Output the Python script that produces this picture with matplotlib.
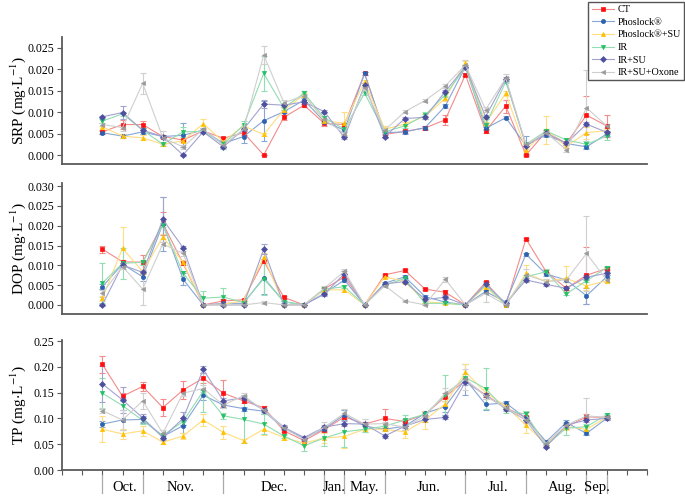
import matplotlib
matplotlib.use("Agg")
import matplotlib.pyplot as plt
from matplotlib.lines import Line2D
import numpy as np

plt.rcParams['font.family'] = ['Liberation Serif', 'DejaVu Serif']
plt.rcParams['mathtext.fontset'] = 'stix'

# sampling positions on the shared x axis (26 sampling dates)
sample_pos = list(range(2, 28))
x_max = 29

treatments = ['CT', 'Phoslock®', 'Phoslock®+SU', 'IR', 'IR+SU', 'IR+SU+Oxone']

# month separators and labels
month_bounds = [2, 4, 8, 13, 14, 16, 20, 23, 26, 27]
month_names = ['Oct.', 'Nov.', 'Dec.', 'Jan.', 'May.', 'Jun.', 'Jul.', 'Aug.', 'Sep.']
month_centers = [3.1, 5.9, 10.5, 13.5, 15.0, 18.2, 21.6, 24.8, 26.5]

# ---- SRP (mg/L) ----
srp_ct = [0.0054, 0.0071, 0.0071, 0.0043, 0.0035, 0.0056, 0.0039, 0.0052, 0.0, 0.0088, 0.0116, 0.0074, 0.0071,
          0.0190, 0.0048, 0.0055, 0.0063, 0.0082, 0.0187, 0.0056, 0.0114, 0.0, 0.0054, 0.0027, 0.0093, 0.0068]
srp_pho = [0.0052, 0.0044, 0.0054, 0.0043, 0.0046, 0.0058, 0.0027, 0.0043, 0.0080, 0.0101, 0.0128, 0.0078, 0.0058,
           0.0190, 0.0052, 0.0054, 0.0064, 0.0114, 0.0206, 0.0062, 0.0087, 0.0022, 0.0047, 0.0027, 0.0019, 0.0049]
srp_phosu = [0.0066, 0.0044, 0.0040, 0.0025, 0.0033, 0.0073, 0.0031, 0.0068, 0.0048, 0.0105, 0.0140, 0.0080, 0.0074,
             0.0171, 0.0060, 0.0072, 0.0090, 0.0132, 0.0215, 0.0074, 0.0144, 0.0012, 0.0058, 0.0020, 0.0052, 0.0057]
srp_ir = [0.0079, 0.0096, 0.0058, 0.0025, 0.0054, 0.0055, 0.0025, 0.0070, 0.0190, 0.0110, 0.0144, 0.0087, 0.0060,
          0.0144, 0.0054, 0.0068, 0.0093, 0.0140, 0.0204, 0.0070, 0.0171, 0.0025, 0.0056, 0.0035, 0.0025, 0.0044]
srp_irsu = [0.0089, 0.0099, 0.0058, 0.0043, 0.0, 0.0054, 0.0019, 0.0060, 0.0119, 0.0116, 0.0124, 0.0101, 0.0041,
            0.0163, 0.0043, 0.0085, 0.0088, 0.0148, 0.0206, 0.0089, 0.0177, 0.0022, 0.0051, 0.0027, 0.0072, 0.0053]
srp_oxo = [0.0071, 0.0064, 0.0167, 0.0040, 0.0019, 0.0060, 0.0023, 0.0060, 0.0233, 0.0122, 0.0138, 0.0083, 0.0050,
           0.0156, 0.0058, 0.0101, 0.0127, 0.0161, 0.0210, 0.0106, 0.0179, 0.0025, 0.0052, 0.0012, 0.0110, 0.0068]

srp_ct_err = [0.0004, 0.0010, 0.0008, 0.0003, 0.0003, 0.0004, 0.0003, 0.0005, 0.0, 0.0006, 0.0004, 0.0007, 0.0004,
              0.0003, 0.0005, 0.0003, 0.0005, 0.0012, 0.0004, 0.0005, 0.0015, 0.0003, 0.0004, 0.0004, 0.0045, 0.0025]
srp_pho_err = [0.0004, 0.0004, 0.0004, 0.0004, 0.0028, 0.0004, 0.0005, 0.0015, 0.0047, 0.0004, 0.0004, 0.0004, 0.0004,
               0.0003, 0.0004, 0.0004, 0.0004, 0.0004, 0.0004, 0.0004, 0.0004, 0.0022, 0.0004, 0.0004, 0.0004, 0.0004]
srp_phosu_err = [0.0009, 0.0004, 0.0006, 0.0003, 0.0003, 0.0012, 0.0004, 0.0005, 0.0004, 0.0004, 0.0005, 0.0004, 0.0027,
                 0.0004, 0.0008, 0.0004, 0.0005, 0.0006, 0.0005, 0.0004, 0.0006, 0.0003, 0.0033, 0.0004, 0.0014, 0.0004]
srp_ir_err = [0.0004, 0.0004, 0.0004, 0.0004, 0.0012, 0.0004, 0.0010, 0.0010, 0.0040, 0.0004, 0.0005, 0.0004, 0.0004,
              0.0004, 0.0004, 0.0004, 0.0008, 0.0004, 0.0004, 0.0004, 0.0004, 0.0004, 0.0004, 0.0004, 0.0008, 0.0008]
srp_irsu_err = [0.0003, 0.0016, 0.0004, 0.0003, 0.0003, 0.0003, 0.0003, 0.0004, 0.0009, 0.0004, 0.0004, 0.0003, 0.0003,
                0.0004, 0.0003, 0.0003, 0.0003, 0.0004, 0.0004, 0.0004, 0.0004, 0.0003, 0.0003, 0.0003, 0.0004, 0.0004]
srp_oxo_err = [0.0004, 0.0008, 0.0024, 0.0015, 0.0005, 0.0004, 0.0005, 0.0004, 0.0020, 0.0006, 0.0004, 0.0004, 0.0004,
               0.0004, 0.0004, 0.0004, 0.0004, 0.0005, 0.0012, 0.0005, 0.0009, 0.0004, 0.0004, 0.0004, 0.0088, 0.0004]

# ---- DOP (mg/L) ----
dop_ct = [0.0141, 0.0109, 0.0108, 0.0206, 0.0105, 0.0, 0.0010, 0.0013, 0.0111, 0.0019, 0.0, 0.0040, 0.0071,
          0.0, 0.0076, 0.0087, 0.0040, 0.0032, 0.0, 0.0057, 0.0, 0.0167, 0.0084, 0.0042, 0.0075, 0.0092]
dop_pho = [0.0046, 0.0103, 0.0071, 0.0205, 0.0065, 0.0, 0.0004, 0.0004, 0.0069, 0.0008, 0.0, 0.0029, 0.0063,
           0.0, 0.0055, 0.0071, 0.0021, 0.0007, 0.0, 0.0034, 0.0007, 0.0128, 0.0078, 0.0063, 0.0023, 0.0071]
dop_phosu = [0.0017, 0.0143, 0.0084, 0.0172, 0.0108, 0.0, 0.0002, 0.0010, 0.0122, 0.0, 0.0, 0.0038, 0.0038,
             0.0, 0.0071, 0.0059, 0.0008, 0.0004, 0.0, 0.0046, 0.0, 0.0080, 0.0059, 0.0067, 0.0048, 0.0061]
dop_ir = [0.0055, 0.0105, 0.0108, 0.0202, 0.0080, 0.0017, 0.0020, 0.0006, 0.0066, 0.0008, 0.0, 0.0040, 0.0046,
          0.0, 0.0050, 0.0067, 0.0004, 0.0004, 0.0, 0.0050, 0.0, 0.0071, 0.0084, 0.0028, 0.0061, 0.0094]
dop_irsu = [0.0, 0.0101, 0.0082, 0.0216, 0.0145, 0.0, 0.0, 0.0, 0.0141, 0.0, 0.0, 0.0027, 0.0079,
            0.0, 0.0053, 0.0059, 0.0014, 0.0019, 0.0, 0.0053, 0.0004, 0.0063, 0.0052, 0.0042, 0.0070, 0.0080]
dop_oxo = [0.0029, 0.0097, 0.0040, 0.0154, 0.0130, 0.0, 0.0, 0.0, 0.0006, 0.0, 0.0, 0.0042, 0.0085,
           0.0, 0.0049, 0.0010, 0.0, 0.0065, 0.0, 0.0029, 0.0, 0.0076, 0.0059, 0.0063, 0.0130, 0.0063]

dop_ct_err = [0.0009, 0.0004, 0.0019, 0.0030, 0.0005, 0.0, 0.0005, 0.0003, 0.0006, 0.0003, 0.0, 0.0004, 0.0006,
              0.0, 0.0003, 0.0003, 0.0003, 0.0006, 0.0, 0.0004, 0.0, 0.0003, 0.0004, 0.0004, 0.0072, 0.0004]
dop_pho_err = [0.0006, 0.0004, 0.0010, 0.0068, 0.0015, 0.0001, 0.0002, 0.0002, 0.0042, 0.0002, 0.0, 0.0004, 0.0004,
               0.0, 0.0004, 0.0004, 0.0003, 0.0003, 0.0, 0.0004, 0.0003, 0.0004, 0.0006, 0.0006, 0.0020, 0.0004]
dop_phosu_err = [0.0006, 0.0053, 0.0004, 0.0006, 0.0006, 0.0001, 0.0002, 0.0003, 0.0010, 0.0001, 0.0, 0.0007, 0.0006,
                 0.0, 0.0003, 0.0003, 0.0002, 0.0002, 0.0, 0.0004, 0.0, 0.0022, 0.0006, 0.0032, 0.0010, 0.0004]
dop_ir_err = [0.0050, 0.0040, 0.0006, 0.0006, 0.0006, 0.0017, 0.0022, 0.0003, 0.0040, 0.0003, 0.0, 0.0004, 0.0004,
              0.0, 0.0003, 0.0004, 0.0002, 0.0002, 0.0, 0.0004, 0.0, 0.0004, 0.0006, 0.0004, 0.0004, 0.0004]
dop_irsu_err = [0.0002, 0.0004, 0.0004, 0.0057, 0.0004, 0.0, 0.0, 0.0, 0.0012, 0.0, 0.0, 0.0004, 0.0006,
                0.0, 0.0003, 0.0004, 0.0002, 0.0003, 0.0, 0.0004, 0.0002, 0.0004, 0.0004, 0.0004, 0.0006, 0.0004]
dop_oxo_err = [0.0008, 0.0006, 0.0040, 0.0006, 0.0006, 0.0, 0.0, 0.0, 0.0004, 0.0, 0.0, 0.0006, 0.0005,
               0.0, 0.0004, 0.0003, 0.0, 0.0006, 0.0, 0.0022, 0.0, 0.0015, 0.0006, 0.0004, 0.0094, 0.0004]

# ---- TP (mg/L) ----
tp_ct = [0.205, 0.143, 0.162, 0.121, 0.155, 0.178, 0.149, 0.134, 0.121, 0.076, 0.057, 0.078, 0.103,
         0.089, 0.100, 0.094, 0.108, 0.142, 0.174, 0.145, 0.121, 0.102, 0.052, 0.084, 0.103, 0.102]
tp_pho = [0.089, 0.097, 0.098, 0.065, 0.086, 0.145, 0.126, 0.119, 0.114, 0.081, 0.061, 0.080, 0.107,
          0.085, 0.079, 0.085, 0.110, 0.123, 0.176, 0.127, 0.130, 0.100, 0.055, 0.092, 0.071, 0.100]
tp_phosu = [0.079, 0.070, 0.076, 0.054, 0.066, 0.097, 0.073, 0.057, 0.079, 0.063, 0.052, 0.062, 0.065,
            0.079, 0.079, 0.074, 0.097, 0.128, 0.190, 0.150, 0.124, 0.087, 0.050, 0.084, 0.079, 0.102]
tp_ir = [0.149, 0.125, 0.096, 0.067, 0.094, 0.153, 0.105, 0.098, 0.089, 0.066, 0.047, 0.062, 0.074,
         0.079, 0.085, 0.097, 0.108, 0.145, 0.179, 0.158, 0.116, 0.108, 0.048, 0.081, 0.084, 0.107]
tp_irsu = [0.167, 0.136, 0.101, 0.063, 0.100, 0.195, 0.134, 0.140, 0.116, 0.083, 0.063, 0.083, 0.090,
           0.089, 0.066, 0.085, 0.098, 0.102, 0.171, 0.145, 0.119, 0.097, 0.045, 0.087, 0.097, 0.100]
tp_oxo = [0.115, 0.097, 0.134, 0.071, 0.149, 0.158, 0.126, 0.144, 0.116, 0.081, 0.059, 0.083, 0.110,
          0.089, 0.090, 0.083, 0.105, 0.149, 0.176, 0.143, 0.121, 0.097, 0.052, 0.087, 0.105, 0.102]

tp_ct_err = [0.016, 0.006, 0.008, 0.016, 0.018, 0.010, 0.026, 0.004, 0.004, 0.003, 0.003, 0.004, 0.004,
             0.004, 0.018, 0.004, 0.004, 0.008, 0.005, 0.004, 0.003, 0.010, 0.003, 0.004, 0.005, 0.003]
tp_pho_err = [0.006, 0.020, 0.006, 0.004, 0.014, 0.010, 0.005, 0.004, 0.005, 0.004, 0.003, 0.004, 0.010,
              0.006, 0.004, 0.008, 0.004, 0.010, 0.030, 0.010, 0.003, 0.004, 0.003, 0.004, 0.004, 0.004]
tp_phosu_err = [0.025, 0.010, 0.010, 0.004, 0.005, 0.012, 0.013, 0.004, 0.012, 0.004, 0.003, 0.010, 0.022,
                0.006, 0.004, 0.012, 0.018, 0.006, 0.015, 0.008, 0.004, 0.015, 0.003, 0.006, 0.006, 0.004]
tp_ir_err = [0.030, 0.008, 0.006, 0.004, 0.006, 0.040, 0.006, 0.045, 0.020, 0.004, 0.010, 0.015, 0.030,
             0.006, 0.006, 0.010, 0.004, 0.040, 0.008, 0.040, 0.005, 0.006, 0.004, 0.013, 0.006, 0.004]
tp_irsu_err = [0.035, 0.025, 0.008, 0.004, 0.012, 0.007, 0.006, 0.005, 0.004, 0.004, 0.003, 0.004, 0.005,
               0.004, 0.004, 0.004, 0.004, 0.004, 0.006, 0.004, 0.004, 0.004, 0.003, 0.004, 0.004, 0.004]
tp_oxo_err = [0.005, 0.020, 0.015, 0.006, 0.006, 0.006, 0.006, 0.006, 0.005, 0.004, 0.003, 0.010, 0.008,
              0.010, 0.004, 0.006, 0.006, 0.010, 0.020, 0.005, 0.004, 0.004, 0.003, 0.004, 0.035, 0.004]

# styles per treatment: (marker, marker colour, line colour)
styles = [
    ('s', '#FF1010', '#F58A8A'),
    ('o', '#2D62B0', '#86A6D6'),
    ('^', '#FFC000', '#FFDD80'),
    ('v', '#22C066', '#92DDB2'),
    ('D', '#4F4FA0', '#A3A3D0'),
    ('<', '#9A9A9A', '#CFCFCF'),
]

panels = [
    ('SRP (mg$\\cdot$L$^{-1}$)', [srp_ct, srp_pho, srp_phosu, srp_ir, srp_irsu, srp_oxo],
     [srp_ct_err, srp_pho_err, srp_phosu_err, srp_ir_err, srp_irsu_err, srp_oxo_err],
     (-0.0021, 0.0275), [0.0, 0.005, 0.010, 0.015, 0.020, 0.025], '{:.3f}'),
    ('DOP (mg$\\cdot$L$^{-1}$)', [dop_ct, dop_pho, dop_phosu, dop_ir, dop_irsu, dop_oxo],
     [dop_ct_err, dop_pho_err, dop_phosu_err, dop_ir_err, dop_irsu_err, dop_oxo_err],
     (-0.0023, 0.0308), [0.0, 0.005, 0.010, 0.015, 0.020, 0.025, 0.030], '{:.3f}'),
    ('TP (mg$\\cdot$L$^{-1}$)', [tp_ct, tp_pho, tp_phosu, tp_ir, tp_irsu, tp_oxo],
     [tp_ct_err, tp_pho_err, tp_phosu_err, tp_ir_err, tp_irsu_err, tp_oxo_err],
     (0.0, 0.252), [0.0, 0.05, 0.10, 0.15, 0.20, 0.25], '{:.2f}'),
]

# axes rectangles in figure fractions (left, bottom, width, height)
rects = [
    (0.0905, 0.6713, 0.854, 0.2545),
    (0.0905, 0.3707, 0.854, 0.2625),
    (0.0905, 0.0581, 0.854, 0.2605),
]

fig = plt.figure(figsize=(6.85, 4.99), dpi=100)
spine_color = '#5a5a5a'
legend_lines = []

for p, (ylabel, series, errs, ylim, yticks, fmt) in enumerate(panels):
    ax = fig.add_axes(rects[p])
    for k, (vals, err) in enumerate(zip(series, errs)):
        marker, mcol, lcol = styles[k]
        ax.errorbar(sample_pos, vals, yerr=err, fmt='none', ecolor=lcol,
                    elinewidth=0.8, capsize=2, capthick=0.8, zorder=2)
        line, = ax.plot(sample_pos, vals, color=lcol, lw=0.8, marker=marker,
                        markersize=3, markerfacecolor=mcol, markeredgecolor=mcol,
                        markeredgewidth=0.5, label=treatments[k], zorder=3)
        if p == 0:
            legend_lines.append(line)

    ax.set_xlim(0, x_max)
    ax.set_ylim(*ylim)
    ax.set_yticks(yticks)
    ax.set_yticklabels([fmt.format(t) for t in yticks])
    ax.tick_params(axis='y', labelsize=8.5, length=3.5, width=0.8, color=spine_color, pad=2)
    for side in ['top', 'right']:
        ax.spines[side].set_visible(False)
    for side in ['left', 'bottom']:
        ax.spines[side].set_color(spine_color)
        ax.spines[side].set_linewidth(1.3)
    ax.set_ylabel(ylabel, fontsize=11)
    ax.yaxis.set_label_coords(-0.058, 0.5)

    if p < 2:
        ax.tick_params(axis='x', bottom=False, labelbottom=False)
    else:
        ax.set_xticks(range(0, x_max + 1))
        ax.tick_params(axis='x', labelbottom=False, length=3.5, width=0.8, color=spine_color)
        trans = ax.get_xaxis_transform()
        for b in month_bounds:
            ax.add_line(Line2D([b, b], [-0.04, -0.178], transform=trans, color='#aaaaaa',
                               lw=0.9, clip_on=False))
        for name, c in zip(month_names, month_centers):
            ax.text(c, -0.138, name, transform=trans, ha='center', va='center', fontsize=10.5)

fig.legend(handles=legend_lines, loc='upper right', bbox_to_anchor=(0.999, 0.996),
           fontsize=7.3, frameon=True, fancybox=False, edgecolor='#555555',
           framealpha=1, handlelength=2.2, handletextpad=0.4, labelspacing=0.35,
           borderpad=0.3, borderaxespad=0.0)

fig.savefig('out.png', dpi=100)
